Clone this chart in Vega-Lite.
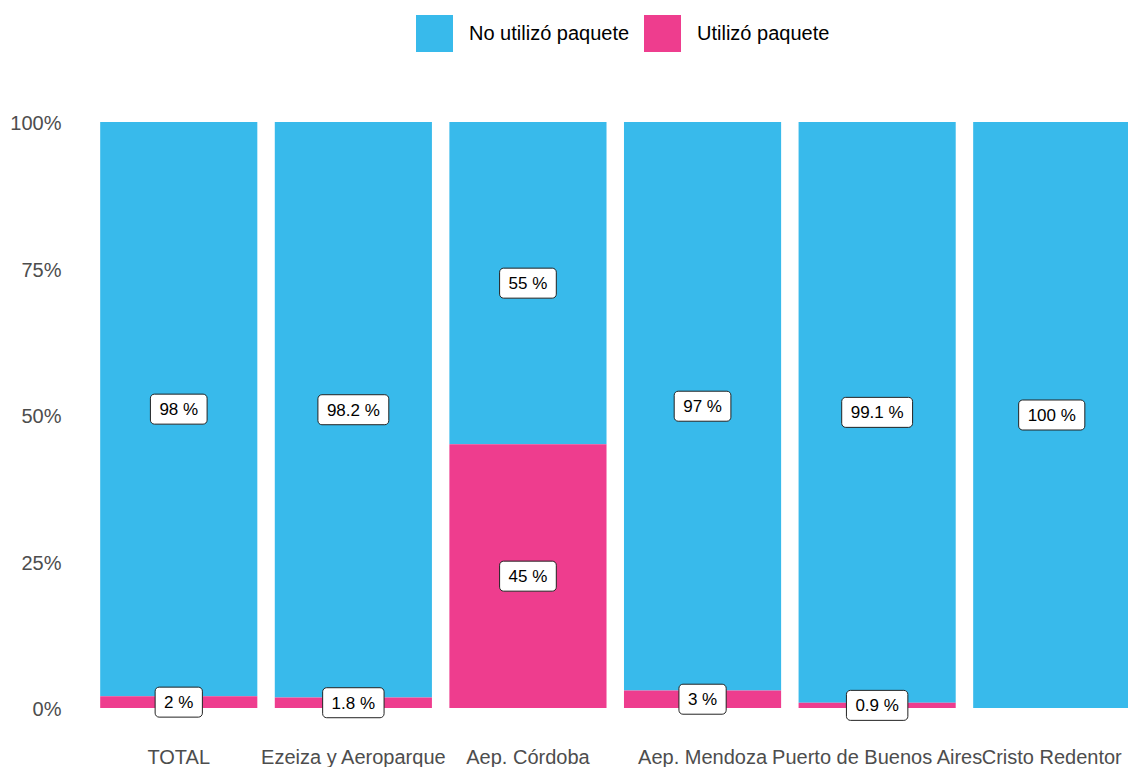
{
  "$schema": "https://vega.github.io/schema/vega-lite/v6.json",
  "width": 1054,
  "height": 586,
  "autosize": "none",
  "padding": {"left": 74, "top": 122, "right": 0, "bottom": 59},
  "background": "white",
  "config": {"view": {"stroke": null}, "font": "Liberation Sans"},
  "data": {
    "values": [
      {"cat": "TOTAL", "tipo": "No utilizó paquete", "pct": 98},
      {"cat": "TOTAL", "tipo": "Utilizó paquete", "pct": 2},
      {"cat": "Ezeiza y Aeroparque", "tipo": "No utilizó paquete", "pct": 98.2},
      {"cat": "Ezeiza y Aeroparque", "tipo": "Utilizó paquete", "pct": 1.8},
      {"cat": "Aep. Córdoba", "tipo": "No utilizó paquete", "pct": 55},
      {"cat": "Aep. Córdoba", "tipo": "Utilizó paquete", "pct": 45},
      {"cat": "Aep. Mendoza", "tipo": "No utilizó paquete", "pct": 97},
      {"cat": "Aep. Mendoza", "tipo": "Utilizó paquete", "pct": 3},
      {"cat": "Puerto de Buenos Aires", "tipo": "No utilizó paquete", "pct": 99.1},
      {"cat": "Puerto de Buenos Aires", "tipo": "Utilizó paquete", "pct": 0.9},
      {"cat": "Cristo Redentor", "tipo": "No utilizó paquete", "pct": 100},
      {"cat": "Cristo Redentor", "tipo": "Utilizó paquete", "pct": 0}
    ]
  },
  "transform": [
    {"stack": "pct", "groupby": ["cat"], "sort": [{"field": "tipo", "order": "descending"}], "as": ["y0", "y1"]},
    {"calculate": "(datum.y0 + datum.y1) / 2", "as": "mid"},
    {"calculate": "datum.pct + ' %'", "as": "lbl"}
  ],
  "encoding": {
    "x": {
      "field": "cat",
      "type": "nominal",
      "sort": ["TOTAL", "Ezeiza y Aeroparque", "Aep. Córdoba", "Aep. Mendoza", "Puerto de Buenos Aires", "Cristo Redentor"],
      "scale": {"range": [0, 1082.5], "paddingInner": 0.1, "paddingOuter": 0.15},
      "axis": {
        "title": null,
        "domain": false,
        "ticks": false,
        "labelFontSize": 20,
        "labelColor": "#4D4D4D",
        "labelAngle": 0,
        "labelPadding": 39,
        "labelOverlap": false,
        "labelLimit": 0,
        "labelBound": false,
        "labelFlush": false
      }
    }
  },
  "layer": [
    {
      "mark": {"type": "bar", "opacity": 1},
      "encoding": {
        "y": {
          "field": "y0",
          "type": "quantitative",
          "scale": {"domain": [0, 100], "nice": false},
          "axis": {
            "title": null,
            "values": [0, 25, 50, 75, 100],
            "labelExpr": "datum.value + '%'",
            "grid": false,
            "domain": false,
            "ticks": false,
            "labelFontSize": 20,
            "labelColor": "#4D4D4D",
            "labelPadding": 13,
            "labelOffset": 1.5
          }
        },
        "y2": {"field": "y1"},
        "color": {
          "field": "tipo",
          "type": "nominal",
          "scale": {"domain": ["No utilizó paquete", "Utilizó paquete"], "range": ["#38BAEB", "#EE3D8E"]},
          "legend": {
            "title": null,
            "orient": "none",
            "legendX": 342,
            "legendY": -107,
            "direction": "horizontal",
            "padding": 0,
            "symbolType": "square",
            "symbolSize": 1369,
            "symbolStrokeWidth": 0,
            "symbolOpacity": 1,
            "labelFontSize": 20,
            "labelColor": "black",
            "labelOffset": 16,
            "columnPadding": 14,
            "labelLimit": 0
          }
        }
      }
    },
    {
      "transform": [{"filter": "datum.pct > 0"}],
      "mark": {
        "type": "bar",
        "fill": "white",
        "stroke": "#222222",
        "strokeWidth": 1,
        "cornerRadius": 4,
        "width": {"expr": "37.8 + 9.45 * length(toString(datum.pct)) - (indexof(toString(datum.pct), '.') >= 0 ? 4.73 : 0)"},
        "yOffset": -15,
        "y2Offset": 15
      },
      "encoding": {
        "y": {"field": "mid", "type": "quantitative"},
        "y2": {"field": "mid"}
      }
    },
    {
      "transform": [{"filter": "datum.pct > 0"}],
      "mark": {"type": "text", "fontSize": 17, "color": "black", "baseline": "middle", "align": "center", "dy": 1},
      "encoding": {
        "y": {"field": "mid", "type": "quantitative"},
        "text": {"field": "lbl"}
      }
    }
  ]
}
